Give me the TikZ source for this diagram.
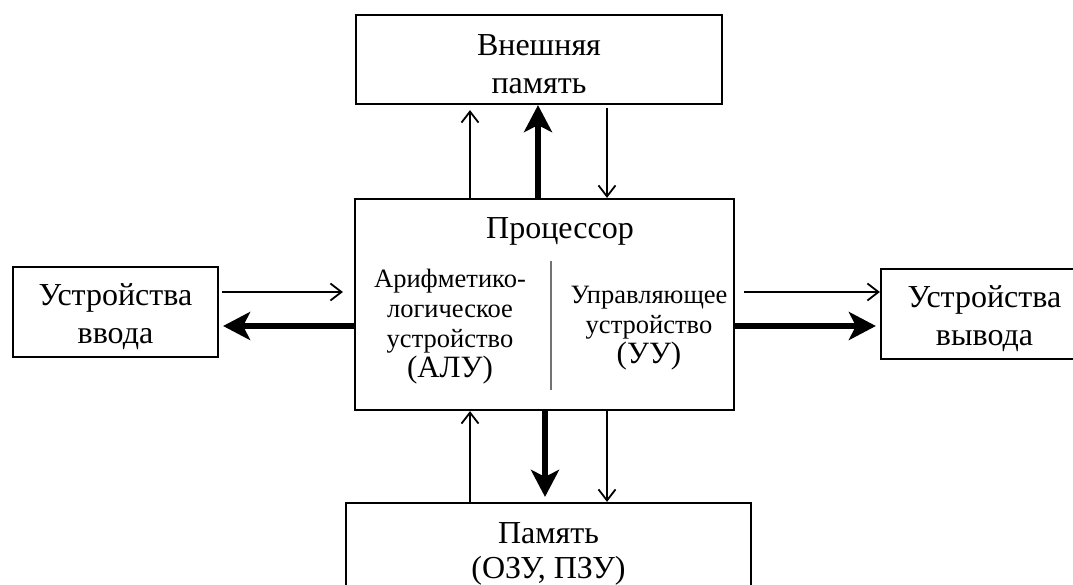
\documentclass[tikz,border=0pt]{standalone}
\usepackage{fontspec}
\setmainfont{Liberation Serif}
\usetikzlibrary{arrows.meta}
\tikzset{
  box/.style={draw=black, line width=2.2pt, inner sep=0pt, anchor=center},
  big/.style={font=\fontsize{32}{38}\selectfont, align=center, inner sep=0pt},
  small/.style={font=\fontsize{26.5}{30}\selectfont, align=center, inner sep=0pt},
  thinarrow/.style={line width=1.8pt, -{Straight Barb[length=11pt,width=17pt,line width=1.8pt]}},
  thickarrow/.style={line width=6.5pt, -{Stealth[length=27pt,width=28pt,inset=7pt]}},
  divider/.style={draw=black!55, line width=1.8pt}
}
\begin{document}
\begin{tikzpicture}[x=1pt,y=-1pt]
\useasboundingbox (0,0) rectangle (1073,585);
\clip (0,0) rectangle (1073,585);
\fill[white] (0,0) rectangle (1073,585);
% boxes
\node[box, minimum width=366pt, minimum height=89pt] (ext) at (539,59.5) {};
\node[big] (extt) at (539,64) {Внешняя\\память};
\node[box, minimum width=379pt, minimum height=211pt] (proc) at (544.5,304.5) {};
\node[big] (proct) at (560,231) {Процессор};
\node[small] (alu) at (450,327) {Арифметико-\\логическое\\устройство\\{\fontsize{31}{33}\selectfont(АЛУ)}};
\node[small] (uu) at (649,328) {Управляющее\\устройство\\{\fontsize{31}{38}\selectfont(УУ)}};
\coordinate (dtop) at (551,261);
\coordinate (dbot) at (551,390);
\draw[divider] (dtop) -- (dbot);
\node[box, minimum width=205pt, minimum height=90pt] (in) at (115.5,312) {};
\node[big] (int) at (115.5,317) {Устройства\\ввода};
\node[box, minimum width=207pt, minimum height=90pt] (out) at (984.5,314) {};
\node[big] (outt) at (984.5,319) {Устройства\\вывода};
\node[box, minimum width=405pt, minimum height=97pt] (mem) at (548.5,551.5) {};
\node[big, font=\fontsize{32}{35}\selectfont] (memt) at (548.5,554) {Память\\(ОЗУ, ПЗУ)};
% guide coordinates
\coordinate (xa) at (470,0);
\coordinate (xb) at (538,0);
\coordinate (xc) at (607,0);
\coordinate (xd) at (545,0);
\coordinate (ya) at (0,292);
\coordinate (yb) at (0,326);
% top connectors
\draw[thinarrow, shorten >=5pt] (proc.north -| xa) -- (ext.south -| xa);
\draw[thickarrow] (proc.north -| xb) -- (ext.south -| xb);
\draw[thinarrow, shorten <=3pt] (ext.south -| xc) -- (proc.north -| xc);
% bottom connectors
\draw[thinarrow] (mem.north -| xa) -- (proc.south -| xa);
\draw[thickarrow, shorten >=5pt] (proc.south -| xd) -- (mem.north -| xd);
\draw[thinarrow] (proc.south -| xc) -- (mem.north -| xc);
% left connectors
\draw[thinarrow, shorten <=3pt, shorten >=11pt] (in.east |- ya) -- (proc.west |- ya);
\draw[thickarrow, shorten >=4pt] (proc.west |- yb) -- (in.east |- yb);
% right connectors
\draw[thinarrow, shorten <=9pt] (proc.east |- ya) -- (out.west |- ya);
\draw[thickarrow, shorten >=4pt] (proc.east |- yb) -- (out.west |- yb);
\end{tikzpicture}
\end{document}
